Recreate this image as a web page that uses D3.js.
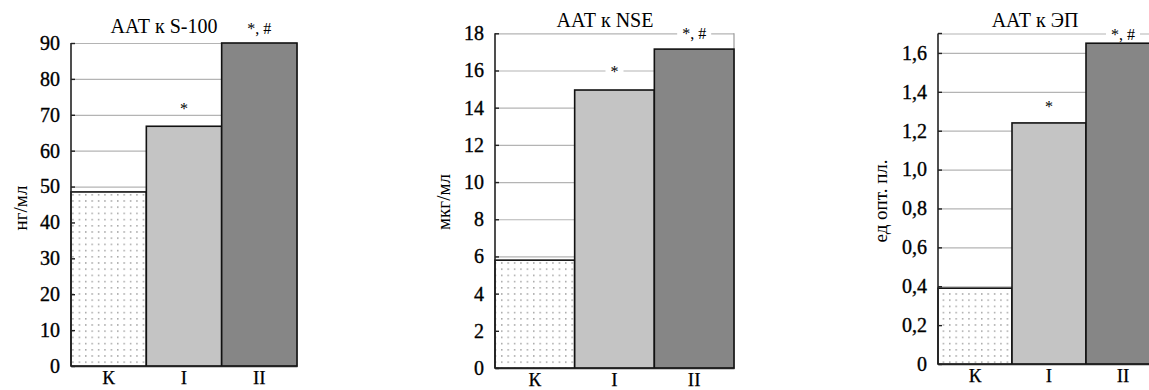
<!DOCTYPE html>
<html>
<head>
<meta charset="utf-8">
<script src="https://cdn.jsdelivr.net/npm/d3@7"></script>
<style>
  body { margin: 0; background: #fff; }
  svg { display: block; }
  svg text { font-family: "Liberation Serif", "DejaVu Serif", "Times New Roman", serif !important; fill: #000; }
</style>
</head>
<body>
<svg id="chart" width="1149" height="390"></svg>
<script>
// Groups: control (К), group I, group II
const groups = ["К", "I", "II"];
const significance = ["", "*", "*, #"];

// Antibody levels per group
const s100Values = [48.5, 66.8, 90];
const nseValues = [5.8, 14.95, 17.15];
const epValues = [0.39, 1.24, 1.65];

// Y tick values
const s100Ticks = [0, 10, 20, 30, 40, 50, 60, 70, 80, 90];
const nseTicks = [0, 2, 4, 6, 8, 10, 12, 14, 16, 18];
const epTicks = [0, 0.2, 0.4, 0.6, 0.8, 1.0, 1.2, 1.4, 1.6];

const titles = ["ААТ к S-100", "ААТ к NSE", "ААТ к ЭП"];
const units = ["нг/мл", "мкг/мл", "ед опт. пл."];

const serif = "'Liberation Serif', 'DejaVu Serif', serif";
const commaFmt = d => d === 0 ? "0" : d3.format(".1f")(d).replace(".", ",");

// Panel layout
const panels = [
  { values: s100Values, ticks: s100Ticks, max: 90, fmt: d => d,
    left: 71, right: 297, top: 43, bottom: 366,
    titleX: 164, titleY: 33, unitX: 20, unitY: 208,
    markDy: [0, 18, 15], knockout: [false, false, false] },
  { values: nseValues, ticks: nseTicks, max: 18, fmt: d => d,
    left: 495, right: 734, top: 33.3, bottom: 368,
    titleX: 605, titleY: 27, unitX: 443, unitY: 202,
    markDy: [0, 19, 16], knockout: [false, true, true] },
  { values: epValues, ticks: epTicks, max: 1.7, fmt: commaFmt,
    left: 938, right: 1160, top: 33.5, bottom: 364,
    titleX: 1035, titleY: 27, unitX: 880, unitY: 201,
    markDy: [0, 16, 9], knockout: [false, false, true] }
];

const fills = ["url(#dots)", "#c4c4c4", "#868686"];

const svg = d3.select("#chart");

// Dotted fill for the control bars
const defs = svg.append("defs");
const pat = defs.append("pattern")
  .attr("id", "dots").attr("patternUnits", "userSpaceOnUse")
  .attr("width", 6.4).attr("height", 6.2);
pat.append("rect").attr("width", 6.4).attr("height", 6.2).attr("fill", "#fff");
pat.append("rect").attr("x", 2).attr("y", 2).attr("width", 1.2).attr("height", 1.2).attr("fill", "#707070");

panels.forEach((p, i) => {
  const g = svg.append("g");
  const y = d3.scaleLinear().domain([0, p.max]).range([p.bottom, p.top]);
  const x = d3.scaleBand().domain(groups).range([p.left, p.right]).padding(0);
  const w = p.right - p.left;

  // Gridlines
  const grid = g.append("g")
    .attr("transform", `translate(${p.left},0)`)
    .call(d3.axisLeft(y).tickValues(p.ticks.filter(t => t > 0).concat(p.ticks.includes(p.max) ? [] : [p.max]))
      .tickSize(-w).tickFormat(""));
  grid.select(".domain").remove();
  grid.selectAll(".tick line").attr("stroke", "#b4b4b4").attr("stroke-width", 1.2);

  // Plot frame right edge
  g.append("line")
    .attr("x1", p.right).attr("x2", p.right)
    .attr("y1", y(p.max)).attr("y2", p.bottom)
    .attr("stroke", "#9a9a9a").attr("stroke-width", 1.2);

  // Bars
  g.selectAll("rect.bar").data(p.values).join("rect")
    .attr("class", "bar")
    .attr("x", (d, j) => x(groups[j]))
    .attr("width", x.bandwidth())
    .attr("y", d => y(d))
    .attr("height", d => p.bottom - y(d))
    .attr("fill", (d, j) => fills[j])
    .attr("stroke", "#111")
    .attr("stroke-width", 1.6);

  // Y axis with inward ticks
  const yAxis = g.append("g")
    .attr("transform", `translate(${p.left},0)`)
    .call(d3.axisLeft(y).tickValues(p.ticks).tickSize(-4).tickSizeOuter(0)
      .tickPadding(11).tickFormat(p.fmt));
  yAxis.attr("font-family", serif).attr("font-size", 20);
  yAxis.select(".domain").attr("stroke", "#222").attr("stroke-width", 1.6)
    .attr("d", `M0,${p.bottom}V${y(p.max)}`);
  yAxis.selectAll(".tick line").attr("stroke", "#222").attr("stroke-width", 1.4);
  yAxis.selectAll(".tick text").attr("fill", "#000")
    .attr("stroke", "#000").attr("stroke-width", 0.35);
  if (!p.ticks.includes(p.max)) {
    g.append("line").attr("x1", p.left).attr("x2", p.left + 4)
      .attr("y1", y(p.max)).attr("y2", y(p.max))
      .attr("stroke", "#222").attr("stroke-width", 1.4);
  }

  // X axis
  const xAxis = g.append("g")
    .attr("transform", `translate(0,${p.bottom})`)
    .call(d3.axisBottom(x).tickSize(0).tickPadding(5));
  xAxis.attr("font-family", serif).attr("font-size", 19);
  xAxis.select(".domain").attr("stroke", "#222").attr("stroke-width", 1.6);
  xAxis.selectAll(".tick text").attr("fill", "#000")
    .attr("stroke", "#000").attr("stroke-width", 0.25);

  // Significance marks
  p.values.forEach((v, j) => {
    if (!significance[j]) return;
    const cx = x(groups[j]) + x.bandwidth() / 2;
    const ty = y(v) - p.markDy[j];
    const t = g.append("text")
      .attr("x", cx).attr("y", ty)
      .attr("text-anchor", "middle").attr("dominant-baseline", "central")
      .attr("font-family", serif).attr("font-size", 16)
      .text(significance[j]);
    if (p.knockout[j]) {
      const bb = t.node().getBBox();
      g.insert("rect", () => t.node())
        .attr("x", bb.x - 5).attr("y", ty - 3)
        .attr("width", bb.width + 10).attr("height", 6)
        .attr("fill", "#fff");
    }
  });

  // Title
  g.append("text")
    .attr("x", p.titleX).attr("y", p.titleY)
    .attr("text-anchor", "middle")
    .attr("font-family", serif).attr("font-size", 20)
    .text(titles[i]);

  // Unit label
  g.append("text")
    .attr("transform", `translate(${p.unitX},${p.unitY}) rotate(-90)`)
    .attr("text-anchor", "middle").attr("dominant-baseline", "central")
    .attr("font-family", serif).attr("font-size", 19)
    .text(units[i]);
});
</script>
</body>
</html>
